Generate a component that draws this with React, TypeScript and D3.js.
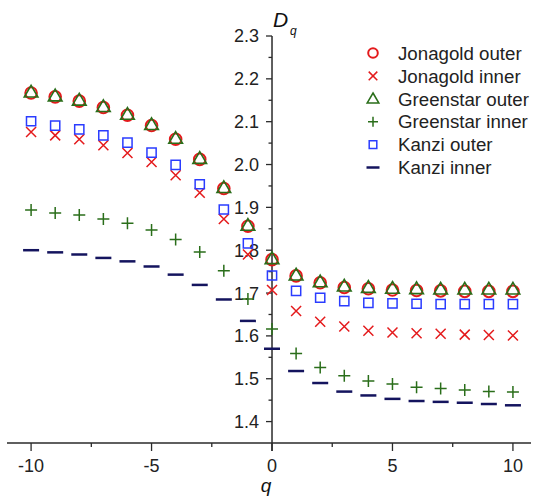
import React from 'react';
import * as d3 from 'd3';

const qValues = [-10, -9, -8, -7, -6, -5, -4, -3, -2, -1, 0, 1, 2, 3, 4, 5, 6, 7, 8, 9, 10];

const jonagoldOuter = [2.167, 2.158, 2.148, 2.133, 2.115, 2.091, 2.059, 2.012, 1.944, 1.856, 1.778,
  1.740, 1.724, 1.713, 1.710, 1.707, 1.706, 1.705, 1.704, 1.704, 1.704];
const jonagoldInner = [2.076, 2.068, 2.059, 2.045, 2.027, 2.006, 1.975, 1.934, 1.873, 1.790, 1.707,
  1.658, 1.633, 1.622, 1.612, 1.608, 1.606, 1.605, 1.603, 1.602, 1.601];
const greenstarOuter = [2.169, 2.160, 2.150, 2.135, 2.117, 2.093, 2.061, 2.014, 1.946, 1.858, 1.780,
  1.742, 1.726, 1.716, 1.713, 1.711, 1.710, 1.709, 1.709, 1.709, 1.709];
const greenstarInner = [1.894, 1.887, 1.882, 1.873, 1.863, 1.847, 1.825, 1.796, 1.752, 1.686, 1.616,
  1.559, 1.526, 1.507, 1.495, 1.488, 1.480, 1.477, 1.474, 1.470, 1.469];
const kanziOuter = [2.101, 2.091, 2.082, 2.068, 2.051, 2.028, 1.999, 1.954, 1.895, 1.816, 1.741,
  1.705, 1.689, 1.681, 1.677, 1.676, 1.675, 1.674, 1.674, 1.674, 1.674];
const kanziInner = [1.800, 1.795, 1.790, 1.782, 1.774, 1.762, 1.743, 1.719, 1.685, 1.635, 1.570,
  1.518, 1.490, 1.470, 1.461, 1.453, 1.448, 1.446, 1.444, 1.441, 1.438];

const yTicks = [1.4, 1.5, 1.6, 1.7, 1.8, 1.9, 2.0, 2.1, 2.2, 2.3];
const yMinor = [1.45, 1.55, 1.65, 1.75, 1.85, 1.95, 2.05, 2.15, 2.25];
const xTicks = [-10, -5, 0, 5, 10];
const xMinor = [-7.5, -2.5, 2.5, 7.5];

const RED = '#e41a1c';
const GREEN = '#2a6e1a';
const BLUE = '#2a3cff';
const NAVY = '#14145e';

const FONT = 'Arial, "Liberation Sans", sans-serif';

type Kind = 'circle' | 'times' | 'triangle' | 'plus' | 'square' | 'dash';

function markerPath(kind: Kind, s: number): string {
  switch (kind) {
    case 'circle': {
      const p = d3.path();
      p.arc(0, 0, s, 0, Math.PI * 2);
      return p.toString();
    }
    case 'times':
      return `M${-s},${-s}L${s},${s}M${-s},${s}L${s},${-s}`;
    case 'triangle':
      return `M0,${-s * 1.05}L${s * 1.05},${s * 0.75}L${-s * 1.05},${s * 0.75}Z`;
    case 'plus':
      return `M${-s},0L${s},0M0,${-s}L0,${s}`;
    case 'square':
      return `M${-s},${-s}H${s}V${s}H${-s}Z`;
    case 'dash':
      return `M${-s},0H${s}`;
  }
}

const series: { name: string; values: number[]; kind: Kind; color: string; size: number; legendSize: number; width: number }[] = [
  { name: 'Jonagold outer', values: jonagoldOuter, kind: 'circle', color: RED, size: 5.8, legendSize: 4.8, width: 2 },
  { name: 'Jonagold inner', values: jonagoldInner, kind: 'times', color: RED, size: 5, legendSize: 4.3, width: 1.5 },
  { name: 'Greenstar outer', values: greenstarOuter, kind: 'triangle', color: GREEN, size: 6.5, legendSize: 5.5, width: 1.6 },
  { name: 'Greenstar inner', values: greenstarInner, kind: 'plus', color: GREEN, size: 6, legendSize: 5, width: 1.5 },
  { name: 'Kanzi outer', values: kanziOuter, kind: 'square', color: BLUE, size: 4.6, legendSize: 3.8, width: 1.5 },
  { name: 'Kanzi inner', values: kanziInner, kind: 'dash', color: NAVY, size: 8, legendSize: 6.5, width: 2.5 },
];

export default function App() {
  const width = 533;
  const height = 500;

  const x = d3.scaleLinear().domain([-11, 10.75]).range([7, 531]);
  const y = d3.scaleLinear().domain([1.35, 2.3]).range([443, 36]);

  const axisColor = '#2a2a2a';
  const x0 = x(0);
  const yBase = y(1.35);

  return (
    <svg width={width} height={height} style={{ position: 'absolute', left: 0, top: 0, background: '#fff' }}>
      {/* axes */}
      <line x1={x(-11)} x2={x(10.75)} y1={yBase} y2={yBase} stroke={axisColor} strokeWidth={1.5} />
      <line x1={x0} x2={x0} y1={y(2.3)} y2={yBase + 8} stroke={axisColor} strokeWidth={1.5} />

      {yTicks.map(t => (
        <g key={'yt' + t}>
          <line x1={x0 - 6} x2={x0} y1={y(t)} y2={y(t)} stroke={axisColor} strokeWidth={1.3} />
          <text x={x0 - 13} y={y(t)} dy="0.36em" textAnchor="end" fontFamily={FONT} fontSize={18} fill="#222">
            {t.toFixed(1)}
          </text>
        </g>
      ))}
      {yMinor.map(t => (
        <line key={'ym' + t} x1={x0 - 3.5} x2={x0} y1={y(t)} y2={y(t)} stroke={axisColor} strokeWidth={1.3} />
      ))}

      {xTicks.map(t => (
        <g key={'xt' + t}>
          <line x1={x(t)} x2={x(t)} y1={yBase} y2={yBase + 8} stroke={axisColor} strokeWidth={1.3} />
          <text x={x(t)} y={yBase + 29} textAnchor="middle" fontFamily={FONT} fontSize={18} fill="#222">
            {t}
          </text>
        </g>
      ))}
      {xMinor.map(t => (
        <line key={'xm' + t} x1={x(t)} x2={x(t)} y1={yBase} y2={yBase + 4} stroke={axisColor} strokeWidth={1.3} />
      ))}

      {/* axis titles */}
      <text x={x0 + 1} y={27} fontFamily={FONT} fontSize={21} fontStyle="italic" fill="#111">D</text>
      <text x={x0 + 18} y={35} fontFamily={FONT} fontSize={12} fontStyle="italic" fill="#111">q</text>
      <text x={x0 - 6} y={492} textAnchor="middle" fontFamily={FONT} fontSize={19} fontStyle="italic" fill="#111">q</text>

      {/* data */}
      {series.map(s => (
        <g key={s.name}>
          {s.values.map((v, i) => (
            <path
              key={i}
              d={markerPath(s.kind, s.size)}
              transform={`translate(${x(qValues[i])},${y(v)})`}
              fill="none"
              stroke={s.color}
              strokeWidth={s.width}
            />
          ))}
        </g>
      ))}

      {/* legend */}
      {series.map((s, i) => (
        <g key={'lg' + s.name} transform={`translate(373,${53 + i * 22.9})`}>
          <path d={markerPath(s.kind, s.legendSize)} fill="none" stroke={s.color} strokeWidth={s.width} />
          <text x={25} dy="0.36em" fontFamily={FONT} fontSize={18.7} fill="#222">{s.name}</text>
        </g>
      ))}
    </svg>
  );
}
